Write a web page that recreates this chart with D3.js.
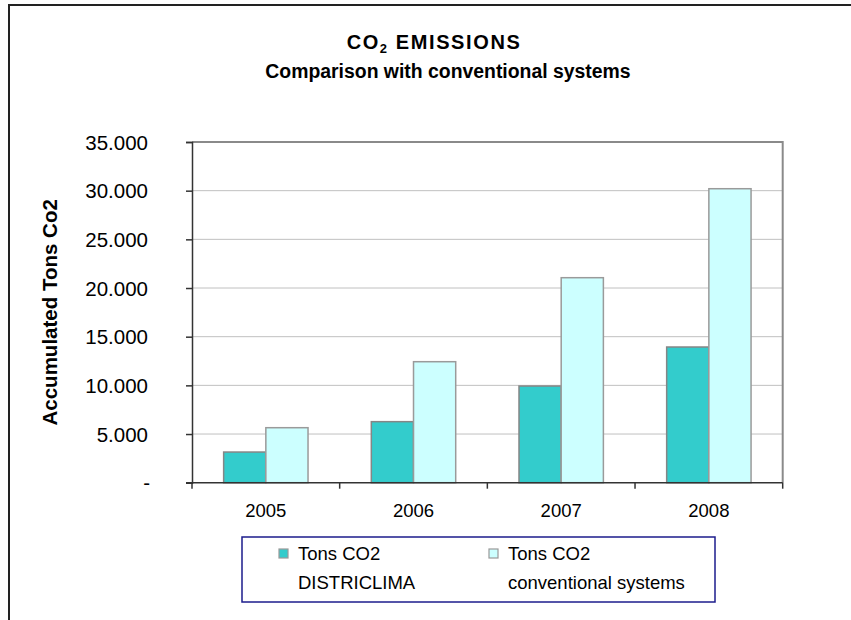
<!DOCTYPE html>
<html>
<head>
<meta charset="utf-8">
<script src="https://cdn.jsdelivr.net/npm/d3@7"></script>
<style>
  html, body { margin: 0; padding: 0; background: #fff; }
  svg { display: block; font-family: Arial, "Liberation Sans", sans-serif; }
</style>
</head>
<body>
<svg id="chart" width="851" height="620"></svg>
<script>
// Accumulated CO2 tonnage per year
const years = ["2005", "2006", "2007", "2008"];
const districlima = [3150, 6270, 9930, 13940];
const conventional = [5650, 12430, 21060, 30200];
const yTicks = [0, 5000, 10000, 15000, 20000, 25000, 30000, 35000];
const seriesNames = ["Tons CO2 DISTRICLIMA", "Tons CO2 conventional systems"];
const seriesKeys = ["districlima", "conventional"];
const legendLines = [["Tons CO2", "DISTRICLIMA"], ["Tons CO2", "conventional systems"]];
const colors = ["#33CCCC", "#CCFFFF"];

const table = years.map((y, i) => ({ year: y, districlima: districlima[i], conventional: conventional[i] }));

const svg = d3.select("#chart");

// chart frame
svg.append("rect")
  .attr("x", 9).attr("y", 5)
  .attr("width", 1000).attr("height", 1000)
  .attr("fill", "none").attr("stroke", "#222").attr("stroke-width", 2);

const plot = { left: 192, top: 142, right: 782.7, bottom: 482.7 };

const x = d3.scaleBand().domain(years).range([plot.left, plot.right]).paddingInner(0).paddingOuter(0);
const xs = d3.scaleBand().domain(seriesKeys).range([0, x.bandwidth()]).paddingInner(0).paddingOuter(0.75);
const y = d3.scaleLinear().domain([0, 35000]).range([plot.bottom, plot.top]);

const loc = d3.formatLocale({ decimal: ",", thousands: ".", grouping: [3], currency: ["", ""] });
const fmt = loc.format(",.0f");

// gridlines
svg.append("g").selectAll("line")
  .data(yTicks.filter(t => t > 0 && t < 35000))
  .join("line")
  .attr("x1", plot.left).attr("x2", plot.right)
  .attr("y1", d => y(d)).attr("y2", d => y(d))
  .attr("stroke", "#c0c0c0").attr("stroke-width", 1);

// plot area border (top and right)
svg.append("path")
  .attr("d", `M${plot.left},${y(35000)}H${plot.right}V${plot.bottom}`)
  .attr("fill", "none").attr("stroke", "#8a8a8a").attr("stroke-width", 2);

// bars
const groups = svg.append("g").selectAll("g")
  .data(table).join("g")
  .attr("transform", d => `translate(${x(d.year)},0)`);

groups.selectAll("rect")
  .data(d => seriesKeys.map((k, i) => ({ key: k, value: d[k], i })))
  .join("rect")
  .attr("x", d => xs(d.key))
  .attr("width", xs.bandwidth())
  .attr("y", d => y(d.value))
  .attr("height", d => y(0) - y(d.value))
  .attr("fill", d => colors[d.i])
  .attr("stroke", d => d.i === 0 ? "#868686" : "#9a9a9a")
  .attr("stroke-width", 1.5);

// y axis
const yAxis = d3.axisLeft(y).tickValues(yTicks).tickSize(6).tickPadding(0)
  .tickFormat(d => d === 0 ? "" : fmt(d));
const gy = svg.append("g").attr("transform", `translate(${plot.left},0)`).call(yAxis);
gy.select(".domain").attr("stroke", "#333").attr("stroke-width", 1.5);
gy.selectAll(".tick line").attr("stroke", "#333").attr("stroke-width", 1.5);
gy.selectAll(".tick text")
  .attr("x", 148 - plot.left)
  .attr("dy", "0.35em")
  .attr("font-size", 20.5)
  .attr("fill", "#000")
  .style("font-family", "Arial, 'Liberation Sans', sans-serif");
// zero shown as a dash
svg.append("text")
  .attr("x", 150).attr("y", y(0)).attr("dy", "0.35em")
  .attr("text-anchor", "end").attr("font-size", 20.5)
  .text("-");

// x axis
const gx = svg.append("g").attr("transform", `translate(0,${plot.bottom})`);
gx.append("line")
  .attr("x1", plot.left - 6).attr("x2", plot.right)
  .attr("stroke", "#333").attr("stroke-width", 1.5);
const bounds = years.map(yr => x(yr)).concat([plot.right]);
gx.selectAll("line.tk").data(bounds).join("line").attr("class", "tk")
  .attr("x1", d => d).attr("x2", d => d)
  .attr("y1", 0).attr("y2", 6)
  .attr("stroke", "#333").attr("stroke-width", 1.5);
gx.selectAll("text").data(years).join("text")
  .attr("x", d => x(d) + x.bandwidth() / 2)
  .attr("y", 34)
  .attr("text-anchor", "middle")
  .attr("font-size", 18.5)
  .text(d => d);

// title
const title = svg.append("text").attr("text-anchor", "middle")
  .attr("font-weight", "bold");
const t1 = title.append("tspan").attr("x", 434).attr("y", 49)
  .attr("font-size", 20).attr("letter-spacing", 1.6);
t1.append("tspan").text("CO");
t1.append("tspan").attr("font-size", 13).attr("dy", 4).text("2");
t1.append("tspan").attr("dy", -4).text(" EMISSIONS");
title.append("tspan").attr("x", 448).attr("y", 78)
  .attr("font-size", 19.4).text("Comparison with conventional systems");

// y axis title
svg.append("text")
  .attr("transform", `translate(57,${(plot.top + plot.bottom) / 2}) rotate(-90)`)
  .attr("text-anchor", "middle")
  .attr("font-weight", "bold").attr("font-size", 20.5)
  .text("Accumulated Tons Co2");

// legend
const lg = svg.append("g");
lg.append("rect")
  .attr("x", 242).attr("y", 537)
  .attr("width", 473).attr("height", 65)
  .attr("fill", "#fff").attr("stroke", "#1c1c8c").attr("stroke-width", 1.5);
const legendX = [279, 489];
seriesNames.forEach((name, i) => {
  lg.append("rect")
    .attr("x", legendX[i]).attr("y", 549)
    .attr("width", 9).attr("height", 9)
    .attr("fill", colors[i]).attr("stroke", "#999").attr("stroke-width", 1.2);
  const t = lg.append("text").attr("font-size", 18.5);
  legendLines[i].forEach((ln, j) => {
    t.append("tspan").attr("x", legendX[i] + 19).attr("y", 560 + j * 29).text(ln);
  });
});
</script>
</body>
</html>
